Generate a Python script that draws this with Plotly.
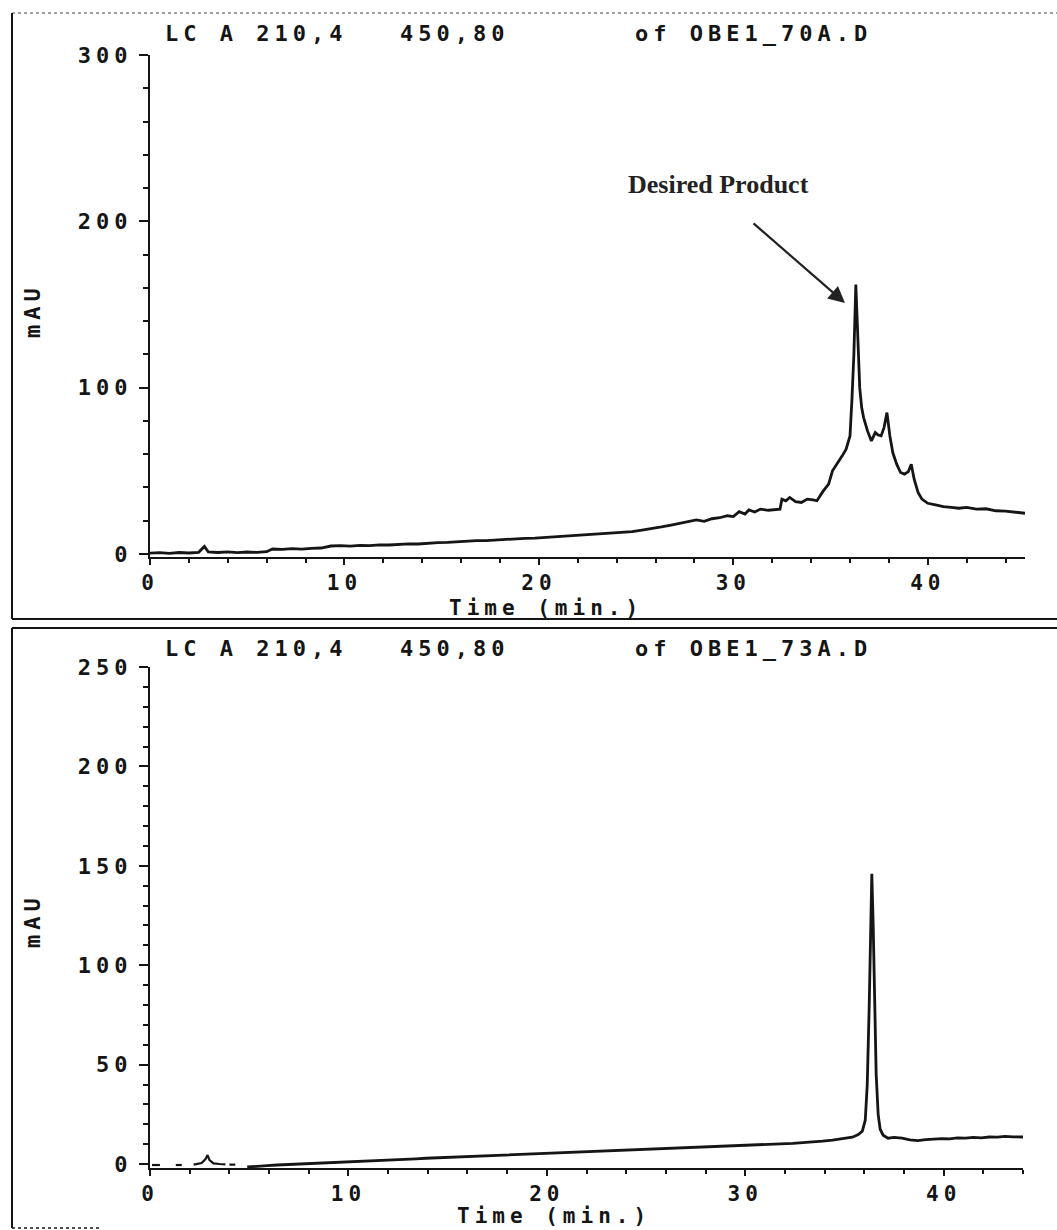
import plotly.graph_objects as go

W, H = 1057, 1230

# ---------------- data ----------------
top_time = [0.0, 0.5, 1.0, 1.5, 2.0, 2.5, 2.8, 3.0, 3.5, 4.0, 4.5, 5.0, 5.5, 6.0, 6.3, 6.8, 7.3, 7.8,
            8.3, 8.8, 9.3, 9.8, 10.3, 10.8, 11.3, 11.8, 12.3, 12.8, 13.3, 13.8, 14.3, 14.8, 15.3, 15.8,
            16.3, 16.8, 17.3, 17.8, 18.3, 18.8, 19.3, 19.8, 20.3, 20.8, 21.3, 21.8, 22.3, 22.8, 23.3,
            23.8, 24.3, 24.8, 25.3, 25.8, 26.3, 26.8, 27.3, 27.8, 28.1, 28.5, 28.9, 29.3, 29.7, 30.0,
            30.3, 30.6, 30.8, 31.1, 31.4, 31.8, 32.2, 32.4, 32.5, 32.7, 32.9, 33.2, 33.5, 33.8, 34.1,
            34.3, 34.6, 34.9, 35.1, 35.4, 35.6, 35.8, 36.0, 36.1, 36.2, 36.3, 36.4, 36.5, 36.6, 36.7,
            36.9, 37.1, 37.3, 37.45, 37.6, 37.75, 37.9, 38.05, 38.2, 38.4, 38.6, 38.8, 39.0, 39.15,
            39.3, 39.5, 39.7, 40.0, 40.4, 40.8, 41.2, 41.6, 42.0, 42.5, 43.0, 43.5, 44.0, 44.5, 45.0]
top_mau = [0.5, 0.8, 0.4, 0.9, 0.6, 1.0, 4.5, 1.2, 0.9, 1.3, 0.8, 1.2, 1.0, 1.4, 3.0, 2.8, 3.2, 2.9,
           3.4, 3.6, 4.8, 5.0, 4.7, 5.2, 5.0, 5.5, 5.4, 5.9, 6.1, 6.0, 6.6, 6.9, 7.0, 7.4,
           7.6, 8.0, 8.1, 8.5, 8.7, 9.0, 9.4, 9.6, 10.0, 10.3, 10.5, 10.9, 11.2, 11.6, 12.0,
           12.4, 12.9, 13.5, 14.4, 15.2, 16.3, 17.4, 18.5, 19.8, 20.5, 19.6, 21.2, 21.8, 23.0, 22.5,
           25.5, 24.0, 26.5, 25.2, 27.0, 26.3, 26.8, 27.0, 33.0, 32.0, 34.0, 31.5, 31.0, 33.0, 32.5,
           32.0, 37.5, 42.0, 50.0, 55.0, 59.0, 63.0, 71.0, 93.0, 120.0, 162.0, 133.0, 100.0, 88.0, 82.0,
           74.0, 68.0, 73.0, 71.5, 71.0, 76.0, 85.0, 71.0, 61.0, 54.0, 49.0, 48.0, 49.5, 54.0,
           45.0, 37.0, 33.0, 30.5, 29.5, 28.5, 28.0, 27.5, 28.0, 27.0, 27.2, 26.0, 25.8, 25.0, 24.5]

bot_early_time = [0.1, 0.5, None, 1.3, 1.6, None, 2.2, 2.4, 2.6, 2.8, 2.9, 3.0, 3.2, 3.5, 3.8, None, 4.0, 4.3]
bot_early_mau = [-0.5, -0.5, None, -0.5, -0.5, None, -0.3, 0.0, 0.5, 2.5, 4.5, 2.0, 0.3, 0.0, -0.2, None, -0.3, -0.3]

bot_time = [4.9, 5.4, 5.9, 6.4, 6.9, 7.4, 7.9, 8.4, 8.9, 9.4, 9.9, 10.4, 10.9, 11.4, 11.9, 12.4, 12.9,
            13.4, 13.9, 14.4, 14.9, 15.4, 15.9, 16.4, 16.9, 17.4, 17.9, 18.4, 18.9, 19.4, 19.9, 20.4,
            20.9, 21.4, 21.9, 22.4, 22.9, 23.4, 23.9, 24.4, 24.9, 25.4, 25.9, 26.4, 26.9, 27.4, 27.9,
            28.4, 28.9, 29.4, 29.9, 30.4, 30.9, 31.4, 31.9, 32.4, 32.9, 33.4, 33.9, 34.4, 34.9, 35.4,
            35.7, 35.9, 36.05, 36.15, 36.25, 36.33, 36.38, 36.45, 36.52, 36.6, 36.7, 36.8, 36.95, 37.2,
            37.5, 37.9, 38.3, 38.7, 39.1, 39.5, 39.9, 40.3, 40.7, 41.1, 41.5, 41.9, 42.3, 42.7, 43.1,
            43.5, 44.0]
bot_mau = [-1.5, -1.0, -0.8, -0.5, -0.3, 0.0, 0.2, 0.4, 0.6, 0.9, 1.1, 1.3, 1.5, 1.8, 1.9, 2.2, 2.4,
           2.6, 2.9, 3.1, 3.3, 3.5, 3.8, 4.0, 4.2, 4.4, 4.6, 4.9, 5.0, 5.3, 5.5, 5.7,
           5.8, 6.1, 6.2, 6.4, 6.6, 6.8, 7.0, 7.1, 7.3, 7.5, 7.6, 7.9, 8.0, 8.2, 8.5,
           8.6, 8.9, 9.0, 9.2, 9.5, 9.7, 10.0, 10.1, 10.4, 10.8, 11.0, 11.5, 12.0, 12.6, 13.5,
           14.8, 16.5, 22.0, 40.0, 80.0, 125.0, 146.0, 120.0, 85.0, 45.0, 25.0, 17.5, 14.5, 13.0,
           13.4, 13.0, 12.2, 11.8, 12.3, 12.5, 12.8, 12.6, 13.1, 13.0, 13.4, 13.2, 13.6, 13.5, 13.9,
           13.7, 13.6]

top_xticks = [0, 10, 20, 30, 40]
top_yticks = [0, 100, 200, 300]
bot_xticks = [0, 10, 20, 30, 40]
bot_yticks = [0, 50, 100, 150, 200, 250]

top_title_parts = ["LC A 210,4", "450,80", "of OBE1_70A.D"]
bot_title_parts = ["LC A 210,4", "450,80", "of OBE1_73A.D"]
x_title = "Time (min.)"
y_title = "mAU"
callout = "Desired Product"

# ---------------- styling ----------------
FONT = "DejaVu Sans Mono"
INK = "#151515"
LS = 5  # letter spacing to imitate plotter font


def spaced(s, ls=LS):
    return f'<span style="letter-spacing:{ls}px">{s}</span>'


def px_x(p):
    return p / W


def px_y(p):
    return 1 - p / H


fig = go.Figure()
line_style = dict(color=INK, width=2.8)
fig.add_trace(go.Scatter(x=top_time, y=top_mau, mode="lines", line=line_style,
                         xaxis="x", yaxis="y", showlegend=False))
fig.add_trace(go.Scatter(x=bot_early_time, y=bot_early_mau, mode="lines", line=dict(color=INK, width=2.2),
                         xaxis="x2", yaxis="y2", showlegend=False, connectgaps=False))
fig.add_trace(go.Scatter(x=bot_time, y=bot_mau, mode="lines", line=line_style,
                         xaxis="x2", yaxis="y2", showlegend=False))

tickfont = dict(family=FONT, size=22, color=INK, weight="bold")
xtickfont = dict(family=FONT, size=21, color=INK, weight="bold")


def xaxis_cfg(domain, rng, ticks, anchor):
    return dict(domain=domain, range=rng, anchor=anchor, showgrid=False, zeroline=False,
                showline=True, linecolor=INK, linewidth=2, ticks="outside", ticklen=6,
                tickwidth=2, tickcolor=INK, tickvals=ticks, ticktext=[spaced(str(t)) for t in ticks],
                tickfont=xtickfont, minor=dict(dtick=2, ticklen=4, ticks="outside", tickwidth=2,
                                               tickcolor=INK, showgrid=False),
                automargin=False, fixedrange=True, ticklabelstandoff=0)


def yaxis_cfg(domain, rng, ticks, anchor, minor_dt):
    return dict(domain=domain, range=rng, anchor=anchor, showgrid=False, zeroline=False,
                showline=True, linecolor=INK, linewidth=2, ticks="outside", ticklen=9,
                tickwidth=2, tickcolor=INK, tickvals=ticks, ticktext=[spaced(str(t)) for t in ticks],
                tickfont=tickfont, minor=dict(dtick=minor_dt, ticklen=5, ticks="outside", tickwidth=2,
                                              tickcolor=INK, showgrid=False, tick0=0),
                automargin=False, fixedrange=True, ticklabelstandoff=2)


fig.update_layout(
    width=W, height=H, margin=dict(l=0, r=0, t=0, b=0),
    paper_bgcolor="white", plot_bgcolor="rgba(0,0,0,0)",
    xaxis=xaxis_cfg([px_x(150), px_x(1025)], [0, 45], top_xticks, "y"),
    yaxis=yaxis_cfg([px_y(556.5), px_y(55)], [-1.5, 300], top_yticks, "x", 20),
    xaxis2=xaxis_cfg([px_x(150), px_x(1023)], [0, 44], bot_xticks, "y2"),
    yaxis2=yaxis_cfg([px_y(1168), px_y(667)], [-2, 250], bot_yticks, "x2", 10),
)

ann = []
txtfont = dict(family=FONT, size=22, color=INK, weight="bold")
xtitlefont = dict(family=FONT, size=21, color=INK, weight="bold")
for parts, ypx in ((top_title_parts, 34), (bot_title_parts, 649)):
    for s, xpx in zip(parts, (163, 398, 633)):
        ann.append(dict(text=spaced(s), x=px_x(xpx), y=px_y(ypx), xref="paper", yref="paper",
                        xanchor="left", yanchor="middle", showarrow=False, font=txtfont))
for ypx, xc in ((608, 546), (1216, 554)):
    ann.append(dict(text=spaced(x_title), x=px_x(xc), y=px_y(ypx), xref="paper", yref="paper",
                    xanchor="center", yanchor="middle", showarrow=False, font=xtitlefont))
for ypx in (311, 921):
    ann.append(dict(text=spaced(y_title), x=px_x(32), y=px_y(ypx), xref="paper", yref="paper",
                    xanchor="center", yanchor="middle", showarrow=False, font=txtfont, textangle=-90))
# callout with arrow
ann.append(dict(text=f"<b>{callout}</b>", x=px_x(718), y=px_y(184), xref="paper", yref="paper",
                xanchor="center", yanchor="middle", showarrow=False,
                font=dict(family="Liberation Serif", size=26, color="#222")))
ann.append(dict(text="", x=px_x(845), y=px_y(303), ax=752 - 845, ay=222 - 303,
                xref="paper", yref="paper", axref="pixel", ayref="pixel",
                showarrow=True, arrowhead=2, arrowsize=1.5, arrowwidth=2.2, arrowcolor="#222"))
fig.update_layout(annotations=ann)

# page frames
frame = []
def seg(x0, y0, x1, y1, w=2, dash="solid", color=INK):
    frame.append(dict(type="line", xref="paper", yref="paper", x0=px_x(x0), y0=px_y(y0),
                      x1=px_x(x1), y1=px_y(y1), line=dict(color=color, width=w, dash=dash)))

seg(12, 13, 1057, 13, w=1.2, dash="dot", color="#444")
seg(12, 13, 12, 619, w=2)
seg(12, 619, 1057, 619, w=2)
seg(12, 628, 1057, 628, w=2)
seg(12, 628, 12, 1228, w=2)
seg(12, 1228, 100, 1228, w=1.5, dash="dot")
fig.update_layout(shapes=frame)

fig.write_html("out.html")
